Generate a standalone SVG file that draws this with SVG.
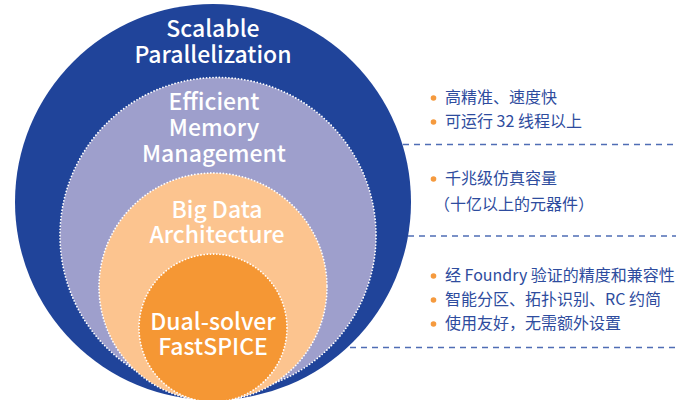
<svg xmlns="http://www.w3.org/2000/svg" width="688" height="400" viewBox="0 0 688 400">
<style>
.lbl{font-family:"Noto Sans CJK SC","Source Sans Pro","Noto Sans",sans-serif;font-size:23px;font-weight:500;fill:#ffffff;text-anchor:middle}
.ring{stroke:#ffffff;stroke-width:1.8;stroke-dasharray:0 3.2;stroke-linecap:round}
.txt{font-family:"Noto Sans CJK SC","Noto Sans",sans-serif;font-size:16px;fill:#2E4C9E}
.dot{fill:#F59A3E}
.dash{stroke:#4F6DB5;stroke-width:1.5;stroke-dasharray:6 5;fill:none}
</style>
<rect width="688" height="400" fill="#ffffff"/>
<g id="connectors">
<line class="dash" x1="403" y1="144.5" x2="676" y2="144.5"/>
<line class="dash" x1="408" y1="236" x2="676" y2="236"/>
<line class="dash" x1="350" y1="347.5" x2="676" y2="347.5"/>
</g>
<g id="scalable-parallelization">
<circle cx="213" cy="202" r="198" fill="#20449A"/>
<text class="lbl" x="213" y="37">Scalable</text>
<text class="lbl" x="213" y="63">Parallelization</text>
</g>
<g id="efficient-memory-management">
<circle class="ring" cx="218" cy="235.5" r="158" fill="#9E9FCC"/>
<text class="lbl" x="214" y="110">Efficient</text>
<text class="lbl" x="214" y="136">Memory</text>
<text class="lbl" x="214" y="162">Management</text>
</g>
<g id="big-data-architecture">
<circle class="ring" cx="213" cy="287" r="114" fill="#FCC48F"/>
<text class="lbl" x="217" y="218">Big Data</text>
<text class="lbl" x="217" y="243">Architecture</text>
</g>
<g id="dual-solver-fastspice">
<circle class="ring" cx="213" cy="328" r="74" fill="#F59734"/>
<text class="lbl" x="213" y="330">Dual-solver</text>
<text class="lbl" x="213" y="355">FastSPICE</text>
</g>
<g id="notes-parallel">
<circle class="dot" cx="433.5" cy="98" r="2.8"/>
<text class="txt" x="445" y="103">高精准、速度快</text>
<circle class="dot" cx="433.5" cy="122" r="2.8"/>
<text class="txt" x="445" y="127">可运行 32 线程以上</text>
</g>
<g id="notes-memory">
<circle class="dot" cx="433.5" cy="179" r="2.8"/>
<text class="txt" x="445" y="184">千兆级仿真容量</text>
<text class="txt" x="434" y="210">（十亿以上的元器件）</text>
</g>
<g id="notes-solver">
<circle class="dot" cx="433.5" cy="276" r="2.8"/>
<text class="txt" x="445" y="281">经 Foundry 验证的精度和兼容性</text>
<circle class="dot" cx="433.5" cy="300" r="2.8"/>
<text class="txt" x="445" y="305">智能分区、拓扑识别、RC 约简</text>
<circle class="dot" cx="433.5" cy="324" r="2.8"/>
<text class="txt" x="445" y="329">使用友好，无需额外设置</text>
</g>
</svg>
